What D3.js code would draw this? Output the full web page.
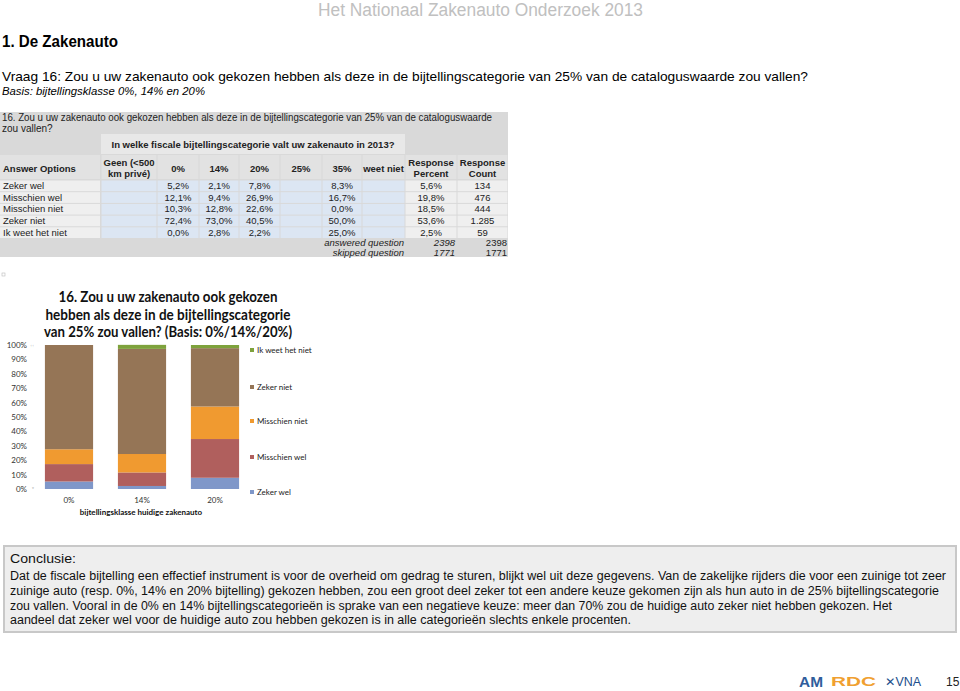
<!DOCTYPE html>
<html><head><meta charset="utf-8">
<script src="https://cdn.jsdelivr.net/npm/d3@7"></script>
<style>
html,body{margin:0;padding:0;background:#fff;}
svg{display:block;}
</style></head>
<body>
<svg id="c" width="960" height="691"></svg>
<script>
// ---------- DATA ----------
const answerOptions = ["Zeker wel","Misschien wel","Misschien niet","Zeker niet","Ik weet het niet"];
const tableColumns = ["Geen (<500|km privé)","0%","14%","20%","25%","35%","weet niet","Response|Percent","Response|Count"];
const col0 = ["","","","",""];
const col0pct = ["5,2%","12,1%","10,3%","72,4%","0,0%"];
const col14 = ["2,1%","9,4%","12,8%","73,0%","2,8%"];
const col20 = ["7,8%","26,9%","22,6%","40,5%","2,2%"];
const col25 = ["","","","",""];
const col35 = ["8,3%","16,7%","0,0%","50,0%","25,0%"];
const colWeetNiet = ["","","","",""];
const responsePercent = ["5,6%","19,8%","18,5%","53,6%","2,5%"];
const responseCount = ["134","476","444","1.285","59"];
const answered = ["2398","2398"];
const skipped = ["1771","1771"];

const categories = ["0%","14%","20%"];
const seriesNames = ["Zeker wel","Misschien wel","Misschien niet","Zeker niet","Ik weet het niet"];
const zekerWel = [5.2, 2.1, 7.8];
const misschienWel = [12.1, 9.4, 26.9];
const misschienNiet = [10.3, 12.8, 22.6];
const zekerNiet = [72.4, 73.0, 40.5];
const ikWeetHetNiet = [0.0, 2.8, 2.2];
const yTicks = [0,10,20,30,40,50,60,70,80,90,100];
const seriesColors = ["#7f97c9","#b05f5d","#f09a30","#957556","#7ea23c"];

const conclusionLines = [
 "Dat de fiscale bijtelling een effectief instrument is voor de overheid om gedrag te sturen, blijkt wel uit deze gegevens. Van de zakelijke rijders die voor een zuinige tot zeer",
 "zuinige auto (resp. 0%, 14% en 20% bijtelling) gekozen hebben, zou een groot deel zeker tot een andere keuze gekomen zijn als hun auto in de 25% bijtellingscategorie",
 "zou vallen. Vooral in de 0% en 14% bijtellingscategorieën is sprake van een negatieve keuze: meer dan 70% zou de huidige auto zeker niet hebben gekozen. Het",
 "aandeel dat zeker wel voor de huidige auto zou hebben gekozen is in alle categorieën slechts enkele procenten."
];

// ---------- DRAW ----------
const svg = d3.select("#c");
const NARROW = "'Liberation Sans Narrow','Arial Narrow','Liberation Sans',Arial,sans-serif";
const SANS = "'Liberation Sans',Arial,Helvetica,sans-serif";
const CAL = "Lato,'Open Sans',sans-serif";

function txt(g, x, y, s, opt) {
  const t = g.append("text").attr("x", x).attr("y", y).text(s)
    .attr("font-family", opt.ff || SANS)
    .attr("font-size", opt.fs || 10)
    .attr("fill", opt.fill || "#000");
  if (opt.fw) t.attr("font-weight", opt.fw);
  if (opt.fst) t.attr("font-style", opt.fst);
  if (opt.anchor) t.attr("text-anchor", opt.anchor);
  if (opt.len) t.attr("textLength", opt.len).attr("lengthAdjust", "spacingAndGlyphs");
  return t;
}

// header texts
txt(svg, 318, 16, "Het Nationaal Zakenauto Onderzoek 2013", {ff: NARROW, fs: 18, fill: "#c0c0c0", len: 325});
txt(svg, 2, 47, "1. De Zakenauto", {ff: NARROW, fs: 16, fw: "bold", len: 116});
txt(svg, 2, 81, "Vraag 16: Zou u uw zakenauto ook gekozen hebben als deze in de bijtellingscategorie van 25% van de cataloguswaarde zou vallen?", {ff: NARROW, fs: 13, len: 806});
txt(svg, 2, 95, "Basis: bijtellingsklasse 0%, 14% en 20%", {ff: NARROW, fs: 10.5, fst: "italic", len: 203});

// ---------- TABLE ----------
const TF = 9.5;
const tb = svg.append("g");
const colX = [0, 101, 157, 199, 239, 280, 322, 362, 405, 457, 508];
tb.append("rect").attr("x", 0).attr("y", 112).attr("width", 508).attr("height", 145).attr("fill", "#d9d9d9");
txt(tb, 2, 121, "16. Zou u uw zakenauto ook gekozen hebben als deze in de bijtellingscategorie van 25% van de cataloguswaarde", {fs: 10, fill: "#222", len: 490});
txt(tb, 2, 132, "zou vallen?", {fs: 10, fill: "#222"});
tb.append("rect").attr("x", 101).attr("y", 134).attr("width", 304).attr("height", 20).attr("fill", "#e8e8e8");
txt(tb, 253, 148, "In welke fiscale bijtellingscategorie valt uw zakenauto in 2013?", {fs: TF, fw: "bold", anchor: "middle", fill: "#222"});
// column header row
for (let i = 0; i < colX.length - 1; i++) {
  tb.append("rect").attr("x", colX[i] + (i ? 0.5 : 0)).attr("y", 155).attr("width", colX[i+1] - colX[i] - 1).attr("height", 24)
    .attr("fill", "#e2e2e2");
}
txt(tb, 3, 172, "Answer Options", {fs: TF, fw: "bold", fill: "#222"});
tableColumns.forEach((c, i) => {
  const cx = (colX[i+1] + colX[i+2]) / 2;
  const parts = c.split("|");
  if (parts.length === 1) {
    txt(tb, cx, 172, parts[0], {fs: TF, fw: "bold", anchor: "middle", fill: "#222"});
  } else {
    txt(tb, cx, 166, parts[0], {fs: TF, fw: "bold", anchor: "middle", fill: "#222"});
    txt(tb, cx, 177, parts[1], {fs: TF, fw: "bold", anchor: "middle", fill: "#222"});
  }
});
// data rows
const cols = [col0, col0pct, col14, col20, col25, col35, colWeetNiet, responsePercent, responseCount];
const rowTop = 180, rowH = 11.7;
answerOptions.forEach((a, r) => {
  const y = rowTop + r * rowH;
  for (let i = 0; i < colX.length - 1; i++) {
    const blue = i >= 1 && i <= 7;
    tb.append("rect").attr("x", colX[i] + (i ? 0.5 : 0)).attr("y", y + 0.5).attr("width", colX[i+1] - colX[i] - 1).attr("height", rowH - 1)
      .attr("fill", blue ? "#dce6f3" : "#efefef");
  }
  txt(tb, 3, y + 9, a, {fs: TF, fill: "#222"});
  cols.forEach((c, i) => {
    if (c[r] !== "") {
      const cx = (colX[i+1] + colX[i+2]) / 2;
      txt(tb, cx, y + 9, c[r], {fs: TF, anchor: "middle", fill: "#222"});
    }
  });
});
txt(tb, 404, 245.5, "answered question", {fs: TF, fst: "italic", anchor: "end", fill: "#222"});
txt(tb, 404, 255.5, "skipped question", {fs: TF, fst: "italic", anchor: "end", fill: "#222"});
txt(tb, 455, 245.5, answered[0], {fs: TF, fst: "italic", anchor: "end", fill: "#222"});
txt(tb, 507, 245.5, answered[1], {fs: TF, anchor: "end", fill: "#222"});
txt(tb, 455, 255.5, skipped[0], {fs: TF, fst: "italic", anchor: "end", fill: "#222"});
txt(tb, 507, 255.5, skipped[1], {fs: TF, anchor: "end", fill: "#222"});

// tiny marker
svg.append("rect").attr("x", 2).attr("y", 273).attr("width", 3).attr("height", 3).attr("fill", "none").attr("stroke", "#bbb").attr("stroke-width", 0.6);

// ---------- CHART ----------
const ch = svg.append("g");
["16. Zou u uw zakenauto ook gekozen", "hebben als deze in de bijtellingscategorie", "van 25% zou vallen? (Basis: 0%/14%/20%)"]
  .forEach((l, i) => {
    const lens = [219, 245, 248];
    txt(ch, 168, 302 + i * 17.5, l, {ff: CAL, fs: 14.5, fw: "bold", anchor: "middle", fill: "#111", len: lens[i]});
  });

const y = d3.scaleLinear().domain([0, 100]).range([489, 345]);
const x = d3.scaleBand().domain(categories).range([32.5, 251.5]).paddingInner(0.34).paddingOuter(0.17);

const seriesData = [zekerWel, misschienWel, misschienNiet, zekerNiet, ikWeetHetNiet];
const rows = categories.map((c, i) => {
  const o = {cat: c};
  seriesNames.forEach((s, k) => o[s] = seriesData[k][i]);
  return o;
});
const stack = d3.stack().keys(seriesNames)(rows);
ch.selectAll("g.s").data(stack).join("g").attr("class", "s")
  .attr("fill", (d, i) => seriesColors[i])
  .selectAll("rect").data(d => d).join("rect")
  .attr("x", d => x(d.data.cat))
  .attr("width", x.bandwidth())
  .attr("y", d => y(d[1]))
  .attr("height", d => y(d[0]) - y(d[1]));

const yAxis = ch.append("g").attr("transform", "translate(28,0)")
  .call(d3.axisLeft(y).tickValues(yTicks).tickSize(0).tickPadding(1).tickFormat(d => d + "%"));
yAxis.select(".domain").remove();
yAxis.selectAll("text").attr("font-family", CAL).attr("font-size", 8).attr("fill", "#333");

const xAxis = ch.append("g").attr("transform", "translate(0,489)")
  .call(d3.axisBottom(x).tickSize(0).tickPadding(8));
xAxis.select(".domain").remove();
xAxis.selectAll("text").attr("font-family", CAL).attr("font-size", 8).attr("fill", "#333");
txt(ch, 141, 515, "bijtellingsklasse huidige zakenauto", {ff: CAL, fs: 8, fw: "bold", anchor: "middle", fill: "#111"});

// small ticks near axis
txt(ch, 30, 347, "↑↑", {ff: SANS, fs: 4, fill: "#aaa"});
txt(ch, 32, 491, "*", {ff: SANS, fs: 5, fill: "#aaa"});

// legend
const legendY = [352, 389, 423, 459, 494];
const legendOrder = [4, 3, 2, 1, 0];
legendOrder.forEach((k, i) => {
  ch.append("rect").attr("x", 250).attr("y", legendY[i] - 4).attr("width", 4).attr("height", 4).attr("fill", seriesColors[k]);
  txt(ch, 257, legendY[i] + 1, seriesNames[k], {ff: CAL, fs: 8, fill: "#222"});
});

// ---------- CONCLUSION ----------
const cg = svg.append("g");
cg.append("rect").attr("x", 4).attr("y", 546).attr("width", 952).attr("height", 86)
  .attr("fill", "#eeeeee").attr("stroke", "#c8c8c8").attr("stroke-width", 2);
txt(cg, 10, 563, "Conclusie:", {ff: NARROW, fs: 13.5, fill: "#111", len: 66});
const clens = [936, 929, 882, 621];
conclusionLines.forEach((l, i) => {
  txt(cg, 10, 580 + i * 14.8, l, {ff: NARROW, fs: 12.5, fill: "#111", len: clens[i]});
});

// ---------- FOOTER ----------
const fg = svg.append("g");
txt(fg, 799, 687, "AM", {ff: SANS, fs: 15, fw: "bold", fill: "#2f5d9c", len: 24});
txt(fg, 831, 686, "RDC", {ff: SANS, fs: 12, fw: "bold", fill: "#f0a030", len: 45});
txt(fg, 885, 686, "✕VNA", {ff: SANS, fs: 12, fill: "#1d4f8c", len: 36});
txt(fg, 946, 686, "15", {ff: SANS, fs: 12, fill: "#222"});
</script>
</body></html>
